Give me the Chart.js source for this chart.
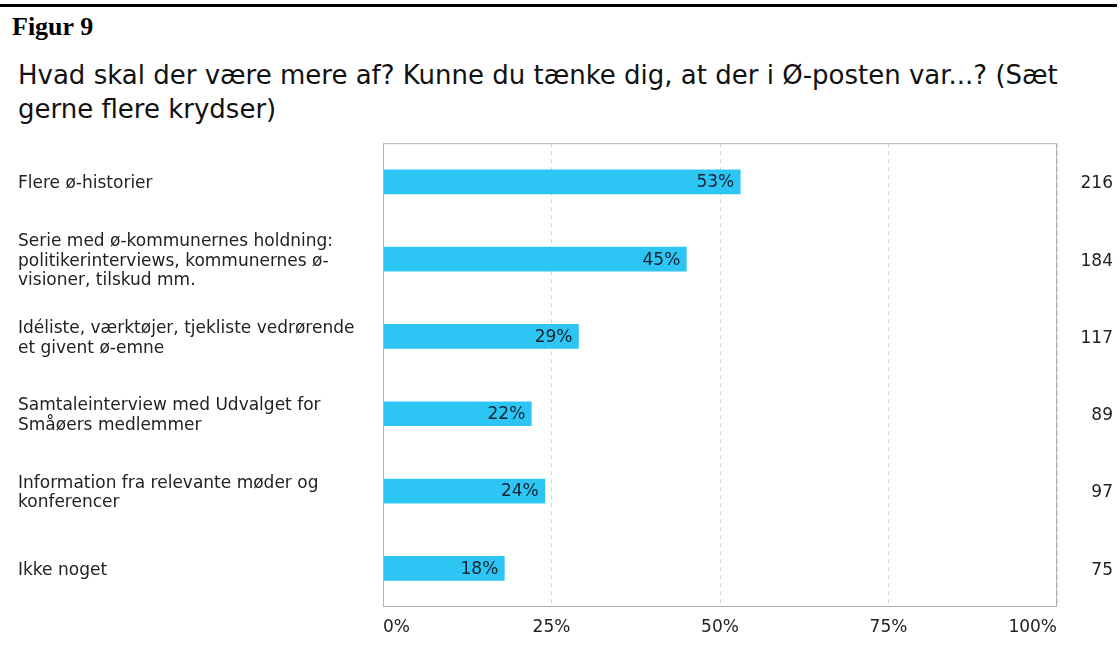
<!DOCTYPE html>
<html>
<head>
<meta charset="utf-8">
<script src="https://cdn.jsdelivr.net/npm/chart.js@4"></script>
<style>
  body { margin: 0; background: #fff; width: 1120px; height: 650px; overflow: hidden; position: relative; }
  .rule { position: absolute; left: 0; top: 4px; width: 1117px; height: 3px; background: #000; }
  .fig { position: absolute; left: 12px; top: 12px; font: bold 26px "Liberation Serif"; color: #000; }
  .title { position: absolute; left: 18px; top: 58px; font: 26px "DejaVu Sans"; line-height: 34px; color: #111; white-space: nowrap; }
  #wrap { position: absolute; left: 0; top: 130px; width: 1120px; height: 520px; }
</style>
</head>
<body>
<div class="rule"></div>
<div class="fig">Figur 9</div>
<div class="title">Hvad skal der være mere af? Kunne du tænke dig, at der i Ø-posten var...? (Sæt<br>gerne flere krydser)</div>
<div id="wrap"><canvas id="chart"></canvas></div>

<script>
/* ---------- data ---------- */
const categories = [
  "Flere ø-historier",
  ["Serie med ø-kommunernes holdning:", "politikerinterviews, kommunernes ø-", "visioner, tilskud mm."],
  ["Idéliste, værktøjer, tjekliste vedrørende", "et givent ø-emne"],
  ["Samtaleinterview med Udvalget for", "Småøers medlemmer"],
  ["Information fra relevante møder og", "konferencer"],
  "Ikke noget"
];
const percent = [53, 45, 29, 22, 24, 18];
const counts = ["216", "184", "117", "89", "97", "75"];
const xTicks = [0, 25, 50, 75, 100];

/* ---------- plugins ---------- */
// grey box round the plot area
const frame = {
  id: "frame",
  afterDatasetsDraw(chart) {
    const { ctx, chartArea: a } = chart;
    ctx.save();
    ctx.strokeStyle = "#b4b4b4";
    ctx.lineWidth = 1;
    ctx.strokeRect(a.left + 0.5, a.top + 0.5, a.width - 1, a.height - 1);
    ctx.restore();
  }
};

// percentage written inside the end of each bar
const barLabels = {
  id: "barLabels",
  afterDatasetsDraw(chart) {
    const ctx = chart.ctx;
    const meta = chart.getDatasetMeta(0);
    ctx.save();
    ctx.font = '17px "DejaVu Sans"';
    ctx.fillStyle = "#15232e";
    ctx.textAlign = "right";
    ctx.textBaseline = "middle";
    meta.data.forEach((bar, i) => {
      ctx.fillText(percent[i] + "%", bar.x - 6, bar.y + 1);
    });
    ctx.restore();
  }
};

/* ---------- chart ---------- */
Chart.defaults.font.family = '"DejaVu Sans"';
Chart.defaults.font.size = 17;
Chart.defaults.color = "#222";

new Chart(document.getElementById("chart"), {
  type: "bar",
  data: {
    labels: categories,
    datasets: [{
      data: percent,
      backgroundColor: "#2cc5f4",
      borderWidth: 0,
      barThickness: 24,
      yAxisID: "y"
    }]
  },
  options: {
    indexAxis: "y",
    responsive: true,
    maintainAspectRatio: false,
    animation: false,
    layout: { padding: { left: 18, right: 7, top: 12, bottom: 10 } },
    plugins: {
      legend: { display: false },
      tooltip: { enabled: false }
    },
    scales: {
      x: {
        min: 0,
        max: 100,
        afterBuildTicks: scale => { scale.ticks = xTicks.map(v => ({ value: v })); },
        afterFit: scale => { scale.height = 33; },
        grid: { color: "#d2d2d2", drawTicks: false },
        border: { display: false, dash: [4, 4] },
        ticks: {
          align: "inner",
          padding: 10,
          callback: v => v + "%"
        }
      },
      y: {
        position: "left",
        afterFit: scale => { scale.width = 365; },
        grid: { display: false },
        border: { display: false },
        ticks: { crossAlign: "far", labelOffset: 2, font: { lineHeight: 1.17 } }
      },
      y2: {
        type: "category",
        labels: counts,
        position: "right",
        offset: true,
        afterFit: scale => { scale.width = 56; },
        grid: { display: false },
        border: { display: false },
        ticks: { crossAlign: "far", labelOffset: 2 }
      }
    }
  },
  plugins: [frame, barLabels]
});
</script>
</body>
</html>
